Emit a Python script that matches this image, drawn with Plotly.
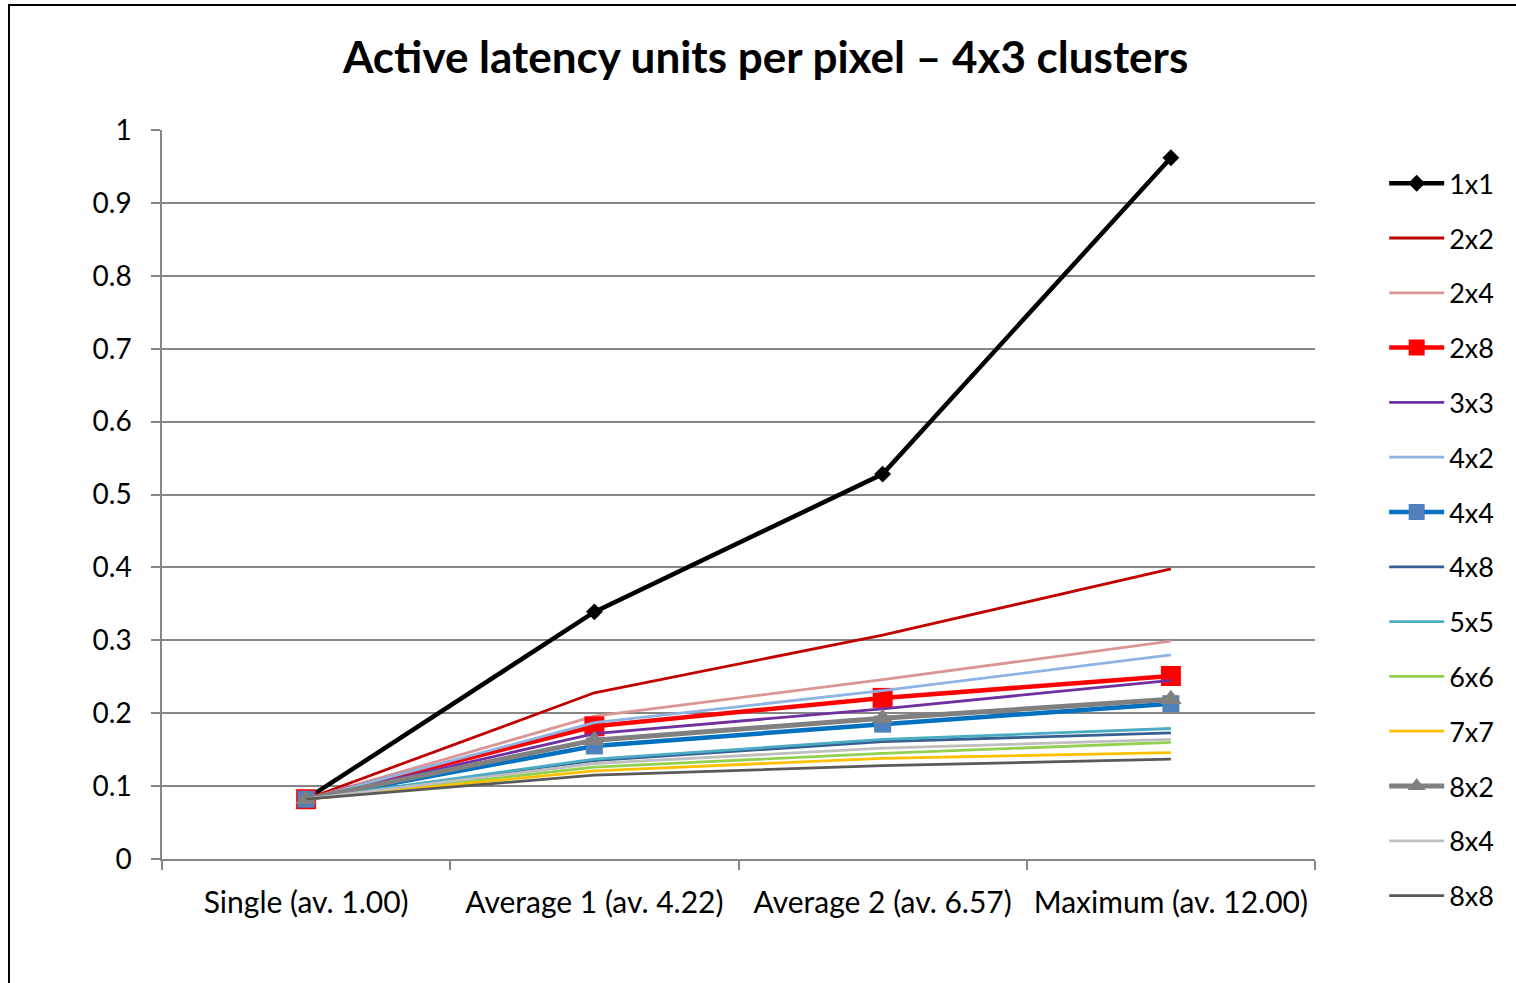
import plotly.graph_objects as go

# category labels along the x axis
categories = ['Single (av. 1.00)', 'Average 1 (av. 4.22)',
              'Average 2 (av. 6.57)', 'Maximum (av. 12.00)']

# series values (active latency units per pixel)
s_1x1 = [0.082, 0.339, 0.528, 0.962]
s_2x2 = [0.082, 0.228, 0.307, 0.398]
s_2x4 = [0.082, 0.196, 0.246, 0.299]
s_2x8 = [0.082, 0.182, 0.221, 0.251]
s_3x3 = [0.082, 0.172, 0.206, 0.245]
s_4x2 = [0.082, 0.187, 0.231, 0.280]
s_4x4 = [0.082, 0.155, 0.185, 0.213]
s_4x8 = [0.082, 0.135, 0.161, 0.173]
s_5x5 = [0.082, 0.137, 0.164, 0.179]
s_6x6 = [0.082, 0.126, 0.145, 0.160]
s_7x7 = [0.082, 0.121, 0.138, 0.146]
s_8x2 = [0.082, 0.163, 0.193, 0.219]
s_8x4 = [0.082, 0.131, 0.152, 0.164]
s_8x8 = [0.082, 0.115, 0.128, 0.137]

series = [
    # name, values, line colour, width, marker symbol, marker size, marker colour
    ('1x1', s_1x1, '#000000', 4.5, 'diamond', 13, '#000000'),
    ('2x2', s_2x2, '#C00000', 2.8, None, 0, None),
    ('2x4', s_2x4, '#DA9694', 2.8, None, 0, None),
    ('2x8', s_2x8, '#FF0000', 4.5, 'square', 20, '#FF0000'),
    ('3x3', s_3x3, '#7030A0', 2.8, None, 0, None),
    ('4x2', s_4x2, '#8DB4E2', 2.8, None, 0, None),
    ('4x4', s_4x4, '#0070C0', 4.5, 'square', 17, '#4F81BD'),
    ('4x8', s_4x8, '#376092', 2.8, None, 0, None),
    ('5x5', s_5x5, '#4BACC6', 2.8, None, 0, None),
    ('6x6', s_6x6, '#92D050', 2.8, None, 0, None),
    ('7x7', s_7x7, '#FFC000', 2.8, None, 0, None),
    ('8x2', s_8x2, '#808080', 5, 'triangle-up', 19, '#808080'),
    ('8x4', s_8x4, '#BFBFBF', 2.8, None, 0, None),
    ('8x8', s_8x8, '#595959', 2.8, None, 0, None),
]

fig = go.Figure()

for name, values, color, width, symbol, msize, mcolor in series:
    if symbol:
        mode = 'lines+markers'
        marker = dict(symbol=symbol, size=msize, color=mcolor,
                      line=dict(width=0))
    else:
        mode = 'lines'
        marker = None
    fig.add_trace(go.Scatter(
        x=categories, y=values, name=name, mode=mode,
        line=dict(color=color, width=width),
        marker=marker, legendgroup=name,
    ))

fig.update_layout(
    width=1516,
    height=983,
    template='simple_white',
    paper_bgcolor='white',
    plot_bgcolor='white',
    font=dict(family='Lato, Calibri, sans-serif', size=27, color='#000000'),
    title=dict(
        text='<b>Active latency units per pixel – 4x3 clusters</b>',
        x=0.505, xanchor='center', y=0.941, yanchor='middle',
        font=dict(size=44, color='#000000'),
    ),
    margin=dict(l=162, r=201, t=130, b=124),
    showlegend=True,
    legend=dict(
        x=1.06, xanchor='left', y=0.96, yanchor='top',
        traceorder='grouped', tracegroupgap=16.7,
        font=dict(size=27), itemwidth=55, maxheight=900,
        bgcolor='rgba(0,0,0,0)',
    ),
    hovermode=False,
)

fig.update_xaxes(
    type='category', range=[-0.5, 3.5],
    showline=True, linecolor='#868686', linewidth=1.5, mirror=False,
    ticks='outside', tickson='boundaries', ticklen=9,
    tickcolor='#868686', tickwidth=1.5, ticklabelstandoff=16,
    showgrid=False, tickfont=dict(size=30),
)

fig.update_yaxes(
    range=[0, 1], dtick=0.1, tick0=0,
    showline=True, linecolor='#868686', linewidth=1.5,
    ticks='outside', ticklen=9, tickcolor='#868686', tickwidth=1.5,
    ticklabelstandoff=14,
    showgrid=True, gridcolor='#868686', gridwidth=1.5,
    zeroline=False, tickfont=dict(size=28),
)

# outer chart frame (left and top edges visible in the original)
fig.add_shape(type='rect', xref='paper', yref='paper',
              x0=-0.1327, x1=1.3, y0=-0.3, y1=1.1715,
              fillcolor='rgba(0,0,0,0)', opacity=1,
              line=dict(color='#000000', width=2), layer='above')

fig.write_html('out.html', config={'displayModeBar': False},
               post_script="document.body.style.margin='0';")
